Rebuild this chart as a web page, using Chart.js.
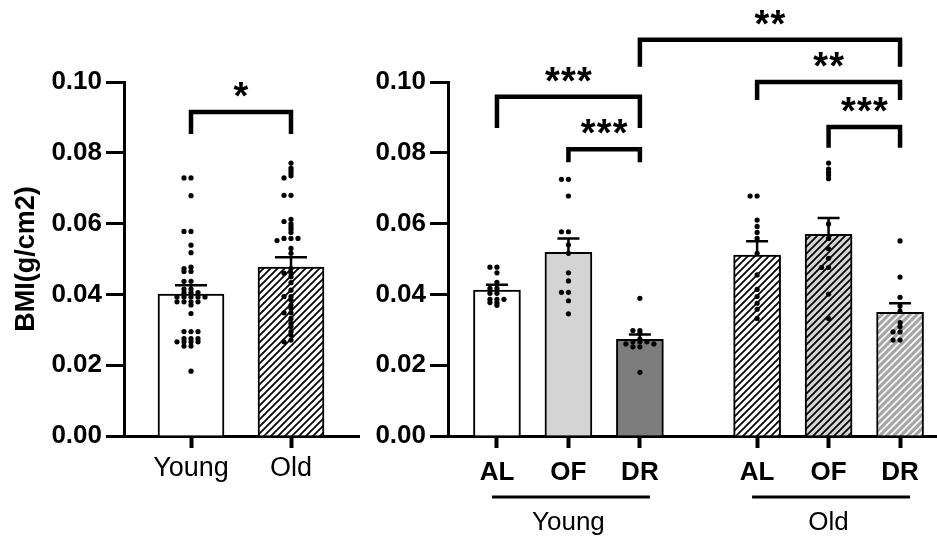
<!DOCTYPE html>
<html>
<head>
<meta charset="utf-8">
<script src="https://cdn.jsdelivr.net/npm/chart.js@4.4.1/dist/chart.umd.min.js"></script>
<style>
  html, body { margin: 0; padding: 0; background: #fff; }
  #wrap { position: relative; width: 937px; height: 537px; overflow: hidden; }
  canvas { position: absolute; top: 0; }
  #left { left: 0; }
  #right { left: 360px; }
</style>
</head>
<body>
<div id="wrap">
  <canvas id="left" width="360" height="537"></canvas>
  <canvas id="right" width="577" height="537"></canvas>
</div>
<script>
// ---- data ----
const yTicks = [0, 0.02, 0.04, 0.06, 0.08, 0.10];

// left panel: age only
const ageLabels = ['Young', 'Old'];
const agePos = [0, 1];
const ageMean = [0.0401, 0.0477];
const ageSem = [0.0025, 0.0028];
const youngAll = [0.0729, 0.0729, 0.0679, 0.0578, 0.0578, 0.0539, 0.0518, 0.0477, 0.0473, 0.0465, 0.0465,
  0.0437, 0.0437, 0.0415, 0.0415, 0.0405, 0.0405, 0.0405, 0.0393, 0.0393, 0.0393, 0.0393, 0.0393,
  0.0379, 0.0379, 0.0379, 0.0379, 0.037, 0.0346, 0.0295, 0.0295, 0.0295, 0.0275, 0.0275, 0.0275,
  0.0266, 0.0266, 0.0266, 0.0266, 0.0254, 0.0254, 0.0183];
const oldAll = [0.0771, 0.0757, 0.075, 0.0743, 0.0735, 0.0729, 0.068, 0.068, 0.0612, 0.0606, 0.0599,
  0.0591, 0.0584, 0.0575, 0.0558, 0.0558, 0.0558, 0.0552, 0.053, 0.0516, 0.0473, 0.046, 0.046, 0.045,
  0.0433, 0.0412, 0.0394, 0.0394, 0.0384, 0.037, 0.0361, 0.0348, 0.0348, 0.0332, 0.0318, 0.0309,
  0.0295, 0.0285, 0.0271, 0.0266];

// right panel: age x diet
const dietLabels = ['AL', 'OF', 'DR', 'AL', 'OF', 'DR'];
const dietPos = [0, 1, 2, 3.64, 4.64, 5.64];
const dietMean = [0.0412, 0.0519, 0.0273, 0.0511, 0.057, 0.0349];
const dietSem = [0.0015, 0.0039, 0.0014, 0.0039, 0.0046, 0.0026];
const youngAL = [0.0477, 0.0477, 0.0461, 0.0434, 0.0417, 0.0417, 0.0403, 0.0403, 0.0386, 0.0386,
  0.0386, 0.0377, 0.0377, 0.0369];
const youngOF = [0.0725, 0.0725, 0.0678, 0.0577, 0.0577, 0.054, 0.0516, 0.0461, 0.0438, 0.0406,
  0.0406, 0.0382, 0.0345];
const youngDR = [0.0389, 0.0298, 0.0298, 0.029, 0.0274, 0.0266, 0.0266, 0.0266, 0.026, 0.026,
  0.0252, 0.0252, 0.018];
const oldAL = [0.0678, 0.0678, 0.061, 0.0592, 0.0575, 0.0558, 0.0516, 0.0455, 0.0414, 0.0394,
  0.0375, 0.0358, 0.0332];
const oldOF = [0.0771, 0.0754, 0.0745, 0.0737, 0.0727, 0.0599, 0.0558, 0.0529, 0.0502, 0.0476,
  0.0476, 0.0401, 0.0332];
const oldDR = [0.0551, 0.0449, 0.0392, 0.0367, 0.0352, 0.032, 0.0309, 0.0294, 0.0294, 0.0271, 0.0271];

const groupNames = ['Young', 'Old'];
const groupSlots = [[0, 1, 2], [3, 4, 5]];

// significance brackets: slot indexes, height of bar and drop (in BMI units)
const ageBrackets = [{ from: 0, to: 1, y: 0.0915, drop: 0.0062, stars: '*' }];
const dietBrackets = [
  { from: 0, to: 2, y: 0.0958, drop: 0.0088, stars: '***' },
  { from: 1, to: 2, y: 0.0810, drop: 0.0037, stars: '***' },
  { from: 2, to: 5, y: 0.1119, drop: 0.0076, stars: '**' },
  { from: 3, to: 5, y: 0.1000, drop: 0.0051, stars: '**' },
  { from: 4, to: 5, y: 0.0873, drop: 0.0059, stars: '***' }
];

const FONT = '"Liberation Sans", Arial, Helvetica, sans-serif';

function hatch(bg, fg) {
  const c = document.createElement('canvas');
  c.width = 7;
  c.height = 7;
  const g = c.getContext('2d');
  g.fillStyle = bg;
  g.fillRect(0, 0, 7, 7);
  g.strokeStyle = fg;
  g.lineWidth = 1.7;
  g.beginPath();
  g.moveTo(-1, 8); g.lineTo(8, -1);
  g.moveTo(-1, 1); g.lineTo(1, -1);
  g.moveTo(6, 8); g.lineTo(8, 6);
  g.stroke();
  return g.createPattern(c, 'repeat');
}

// place dots side by side when they would sit on top of each other
function swarm(values, ys, step, thr) {
  const placed = [];
  const order = [0, -1, 1, -2, 2, -3, 3, -4, 4];
  return values.map(v => {
    const py = ys.getPixelForValue(v);
    let k = 0;
    for (const c of order) {
      if (!placed.some(p => p.k === c && Math.abs(p.y - py) < thr)) { k = c; break; }
    }
    placed.push({ k, y: py });
    return { dx: k * step, y: py };
  });
}

function makeOverlay(cfg) {
  return {
    id: 'overlay',
    afterDatasetsDraw(chart) {
      const { ctx } = chart;
      const xs = chart.scales.x;
      const ys = chart.scales.y;
      ctx.save();
      ctx.strokeStyle = '#000';
      ctx.lineWidth = 2.5;
      cfg.pos.forEach((p, i) => {
        const x = xs.getPixelForValue(p);
        const y0 = ys.getPixelForValue(cfg.mean[i]);
        const y1 = ys.getPixelForValue(cfg.mean[i] + cfg.sem[i]);
        ctx.beginPath();
        ctx.moveTo(x, y0);
        ctx.lineTo(x, y1);
        ctx.moveTo(x - cfg.cap, y1);
        ctx.lineTo(x + cfg.cap, y1);
        ctx.stroke();
      });
      ctx.fillStyle = '#000';
      cfg.points.forEach((vals, i) => {
        const x = xs.getPixelForValue(cfg.pos[i]);
        swarm(vals, ys, 7, 2.2).forEach(d => {
          ctx.beginPath();
          ctx.arc(x + d.dx, d.y, 2.6, 0, Math.PI * 2);
          ctx.fill();
        });
      });
      ctx.restore();
    },
    afterDraw(chart) {
      const { ctx } = chart;
      const xs = chart.scales.x;
      const ys = chart.scales.y;
      ctx.save();
      ctx.strokeStyle = '#000';
      ctx.fillStyle = '#000';
      cfg.brackets.forEach(b => {
        const xa = xs.getPixelForValue(cfg.pos[b.from]);
        const xb = xs.getPixelForValue(cfg.pos[b.to]);
        const yl = ys.getPixelForValue(b.y);
        const yd = ys.getPixelForValue(b.y - b.drop);
        ctx.lineWidth = 4.5;
        ctx.beginPath();
        ctx.moveTo(xa, yd);
        ctx.lineTo(xa, yl);
        ctx.lineTo(xb, yl);
        ctx.lineTo(xb, yd);
        ctx.stroke();
        ctx.font = 'bold 38px ' + FONT;
        ctx.textAlign = 'center';
        ctx.textBaseline = 'alphabetic';
        const n = b.stars.length;
        const cx = (xa + xb) / 2;
        for (let s = 0; s < n; s++) {
          ctx.fillText('*', cx + (s - (n - 1) / 2) * 16, yl - 3);
        }
      });
      if (cfg.groups) {
        const base = chart.chartArea.bottom;
        cfg.groups.forEach((slots, g) => {
          const x0 = xs.getPixelForValue(cfg.pos[slots[0]]) - 5;
          const x1 = xs.getPixelForValue(cfg.pos[slots[slots.length - 1]]) + 10;
          const xm = xs.getPixelForValue(cfg.pos[slots[1]]);
          ctx.lineWidth = 3;
          ctx.beginPath();
          ctx.moveTo(x0, base + 61);
          ctx.lineTo(x1, base + 61);
          ctx.stroke();
          ctx.font = '26px ' + FONT;
          ctx.textAlign = 'center';
          ctx.textBaseline = 'alphabetic';
          ctx.fillText(groupNames[g], xm, base + 94);
        });
      }
      ctx.restore();
    }
  };
}

function makeChart(id, cfg) {
  return new Chart(document.getElementById(id), {
    type: 'bar',
    data: {
      datasets: [{
        data: cfg.pos.map((x, i) => ({ x, y: cfg.mean[i] })),
        backgroundColor: cfg.fills,
        borderColor: '#000',
        borderWidth: 2,
        barThickness: cfg.barWidth
      }]
    },
    plugins: [makeOverlay(cfg)],
    options: {
      responsive: false,
      animation: false,
      events: [],
      layout: { padding: { top: 82, left: 0, right: cfg.padRight, bottom: 0 } },
      plugins: { legend: { display: false }, tooltip: { enabled: false } },
      scales: {
        x: {
          type: 'linear',
          bounds: 'data',
          offset: false,
          min: cfg.xMin,
          max: cfg.xMax,
          afterBuildTicks: s => { s.ticks = cfg.pos.map(v => ({ value: v })); },
          afterFit: s => { s.height = 101; },
          border: { display: true, color: '#000', width: 3 },
          grid: { offset: false, drawOnChartArea: false, drawTicks: true, tickLength: 12, tickWidth: 4, tickColor: '#000' },
          ticks: {
            autoSkip: false,
            maxRotation: 0,
            color: '#000',
            padding: cfg.labelPad,
            font: { family: FONT, size: cfg.labelSize, weight: cfg.labelWeight },
            callback: (v, i) => cfg.labels[i]
          }
        },
        y: {
          min: 0,
          max: 0.1,
          afterBuildTicks: s => { s.ticks = yTicks.map(v => ({ value: v })); },
          afterFit: s => { s.width = cfg.yWidth; },
          border: { display: true, color: '#000', width: 3 },
          grid: { drawOnChartArea: false, drawTicks: true, tickLength: 18, tickWidth: 3, tickColor: '#000' },
          ticks: {
            color: '#000',
            padding: 4,
            font: { family: FONT, size: 26, weight: 'bold' },
            callback: v => v.toFixed(2)
          },
          title: {
            display: cfg.title !== '',
            text: cfg.title,
            color: '#000',
            padding: { top: 10, bottom: 0 },
            font: { family: FONT, size: 27, weight: 'bold' }
          }
        }
      }
    }
  });
}

makeChart('left', {
  pos: agePos,
  labels: ageLabels,
  mean: ageMean,
  sem: ageSem,
  points: [youngAll, oldAll],
  brackets: ageBrackets,
  fills: ['#ffffff', hatch('#ffffff', '#000000')],
  barWidth: 66,
  cap: 16,
  xMin: -0.67,
  xMax: 1.68,
  yWidth: 124,
  padRight: 1,
  labelPad: 4,
  labelSize: 27,
  labelWeight: 'normal',
  title: 'BMI(g/cm2)'
});

makeChart('right', {
  pos: dietPos,
  labels: dietLabels,
  mean: dietMean,
  sem: dietSem,
  points: [youngAL, youngOF, youngDR, oldAL, oldOF, oldDR],
  brackets: dietBrackets,
  groups: groupSlots,
  fills: ['#ffffff', '#d4d4d4', '#7d7d7d', hatch('#ffffff', '#000000'),
    hatch('#d4d4d4', '#000000'), hatch('#a6a6a6', '#ffffff')],
  barWidth: 47,
  cap: 11,
  xMin: -0.685,
  xMax: 6.157,
  yWidth: 88,
  padRight: 0,
  labelPad: 9,
  labelSize: 26,
  labelWeight: 'bold',
  title: ''
});
</script>
</body>
</html>
